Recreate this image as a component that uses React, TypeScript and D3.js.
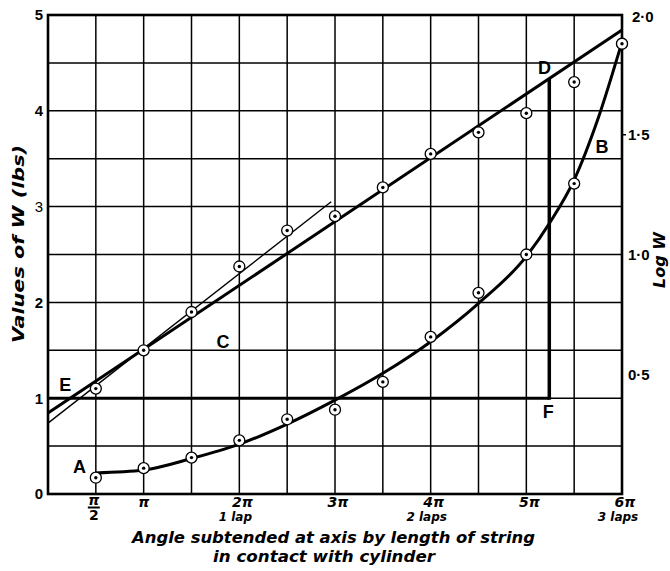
import { scaleLinear, line, curveMonotoneX, range } from 'd3';

// angles in multiples of pi
const angles = [0.5, 1, 1.5, 2, 2.5, 3, 3.5, 4, 4.5, 5, 5.5, 6];
// observed pull W (lbs), left axis
const wObserved = [0.17, 0.27, 0.38, 0.56, 0.78, 0.88, 1.17, 1.64, 2.1, 2.5, 3.24, 4.7];
// log W of the same readings, right axis
const logWObserved = [0.44, 0.6, 0.76, 0.95, 1.1, 1.16, 1.28, 1.42, 1.51, 1.59, 1.72, 1.88];

// smooth curve A-B drawn through the W readings
const curveAngles = [0.5, 1, 1.5, 2, 2.5, 3, 3.5, 4, 4.5, 5, 5.25, 5.5, 5.75, 6];
const curveW = [0.22, 0.25, 0.37, 0.52, 0.73, 0.98, 1.26, 1.59, 1.99, 2.48, 2.84, 3.28, 3.92, 4.72];

// straight line E-D fitted to log W, and the thin tangent at the start
const fitLine: [number, number][] = [[0, 0.338], [6, 1.937]];
const tangentLine: [number, number][] = [[0, 0.296], [2.96, 1.22]];
// construction lines E-F (W = 1) and F-D
const footAngle = 5.24;

const leftTicks = [0, 1, 2, 3, 4, 5];
const rightTicks = [0.5, 1, 1.5, 2];
const rightTickLabels = ['0·5', '1·0', '1·5', '2·0'];
const xTicks = [0.5, 1, 2, 3, 4, 5, 6];
const xTickLabels = ['π', 'π', '2π', '3π', '4π', '5π', '6π'];
const lapLabels = ['', '', '1 lap', '', '2 laps', '', '3 laps'];

const pointLetters = ['A', 'B', 'C', 'D', 'E', 'F'];
const letterAngles = [0.33, 5.79, 1.83, 5.19, 0.18, 5.23];
const letterW = [0.29, 3.63, 1.59, 4.45, 1.14, 0.86];

const WIDTH = 670;
const HEIGHT = 571;

const x = scaleLinear().domain([0, 6]).range([48, 622]);
const y = scaleLinear().domain([0, 5]).range([494, 15]);
const yLog = scaleLinear().domain([0, 2]).range([494, 15]);

const SANS = '"Liberation Sans", Arial, sans-serif';
const TITLE = '"DejaVu Sans", sans-serif';

function Marker({ cx, cy }: { cx: number; cy: number }) {
  return (
    <g>
      <circle cx={cx} cy={cy} r={5.5} fill="#fff" stroke="#000" strokeWidth={1.3} />
      <circle cx={cx} cy={cy} r={1.7} fill="#000" />
    </g>
  );
}

export default function App() {
  const curvePath = line<number>()
    .x((_, i) => x(curveAngles[i]))
    .y((d) => y(d))
    .curve(curveMonotoneX)(curveW)!;
  const logPath = line<[number, number]>()
    .x(([a]) => x(a))
    .y(([, v]) => yLog(v));
  const footTop = fitLine[0][1] + ((fitLine[1][1] - fitLine[0][1]) * footAngle) / 6;

  return (
    <svg
      width={WIDTH}
      height={HEIGHT}
      style={{ position: 'absolute', left: 0, top: 0, background: '#fff' }}
    >
      {/* grid */}
      <g stroke="#000" strokeWidth={1.5}>
        {range(0.5, 6, 0.5).map((a) => (
          <line key={'v' + a} x1={x(a)} x2={x(a)} y1={y(5)} y2={y(0)} />
        ))}
        {range(0.5, 5, 0.5).map((w) => (
          <line key={'h' + w} x1={x(0)} x2={x(6)} y1={y(w)} y2={y(w)} />
        ))}
      </g>
      <rect x={x(0)} y={y(5)} width={x(6) - x(0)} height={y(0) - y(5)} fill="none" stroke="#000" strokeWidth={2.6} />
      <line x1={x(6)} x2={x(6) + 4} y1={yLog(1.5)} y2={yLog(1.5)} stroke="#000" strokeWidth={1.5} />

      {/* construction lines */}
      <g stroke="#000" strokeWidth={3} fill="none">
        <line x1={x(0)} x2={x(footAngle)} y1={y(1)} y2={y(1)} />
        <line x1={x(footAngle)} x2={x(footAngle)} y1={y(1) + 1.5} y2={yLog(footTop)} strokeWidth={3.5} />
        <path d={logPath(fitLine)!} />
        <path d={logPath(tangentLine)!} strokeWidth={1.4} />
        <path d={curvePath} />
      </g>

      {/* readings */}
      {angles.map((a, i) => (
        <Marker key={'w' + a} cx={x(a)} cy={y(wObserved[i])} />
      ))}
      {angles.map((a, i) => (
        <Marker key={'l' + a} cx={x(a)} cy={yLog(logWObserved[i])} />
      ))}

      {/* letters */}
      <g fontFamily={SANS} fontSize={18} fontWeight={600} textAnchor="middle">
        {pointLetters.map((t, i) => (
          <text key={t} x={x(letterAngles[i])} y={y(letterW[i])} dy="0.36em">
            {t}
          </text>
        ))}
      </g>

      {/* left axis */}
      <g fontFamily={SANS} fontSize={15} fontWeight="bold" textAnchor="end">
        {leftTicks.map((t) => (
          <text key={t} x={43} y={y(t)} dy="0.36em" fontWeight={t === 3 ? 'normal' : 'bold'}>
            {t}
          </text>
        ))}
      </g>
      <text
        transform="translate(24,244) rotate(-90)"
        textAnchor="middle"
        fontFamily={TITLE}
        fontSize={16}
        fontWeight="bold"
        fontStyle="italic"
        textLength={198}
        lengthAdjust="spacingAndGlyphs"
      >
        Values of W (lbs)
      </text>

      {/* right axis */}
      <g fontFamily={SANS} fontSize={15} fontWeight="bold">
        {rightTicks.map((t, i) => (
          <text key={t} x={t === 2 ? 632 : 628} y={yLog(t) + (t === 2 ? 2 : 0)} dy="0.36em">
            {rightTickLabels[i]}
          </text>
        ))}
      </g>
      <text
        transform="translate(665,260) rotate(-90)"
        textAnchor="middle"
        fontFamily={TITLE}
        fontSize={16}
        fontWeight="bold"
        fontStyle="italic"
      >
        Log W
      </text>

      {/* bottom axis */}
      <g fontFamily={TITLE} fontSize={14} fontWeight="bold" fontStyle="italic" textAnchor="middle">
        {xTicks.map((t, i) =>
          t === 0.5 ? (
            <g key={t}>
              <text x={x(t) - 2} y={505}>
                {xTickLabels[i]}
              </text>
              <line x1={x(t) - 8} x2={x(t) + 4} y1={507.5} y2={507.5} stroke="#000" strokeWidth={2} />
              <text x={x(t) - 2} y={520} fontStyle="normal">
                2
              </text>
            </g>
          ) : (
            <g key={t}>
              <text x={x(t) + (t === 1 ? 0 : 3)} y={507}>
                {xTickLabels[i]}
              </text>
              {lapLabels[i] && (
                <text x={x(t) - 4} y={521} fontSize={12}>
                  {lapLabels[i]}
                </text>
              )}
            </g>
          ),
        )}
      </g>
      <g fontFamily={TITLE} fontSize={16} fontWeight="bold" fontStyle="italic">
        <text x={132} y={543} textLength={403} lengthAdjust="spacingAndGlyphs">
          Angle subtended at axis by length of string
        </text>
        <text x={213} y={562} textLength={222} lengthAdjust="spacingAndGlyphs">
          in contact with cylinder
        </text>
      </g>
    </svg>
  );
}
